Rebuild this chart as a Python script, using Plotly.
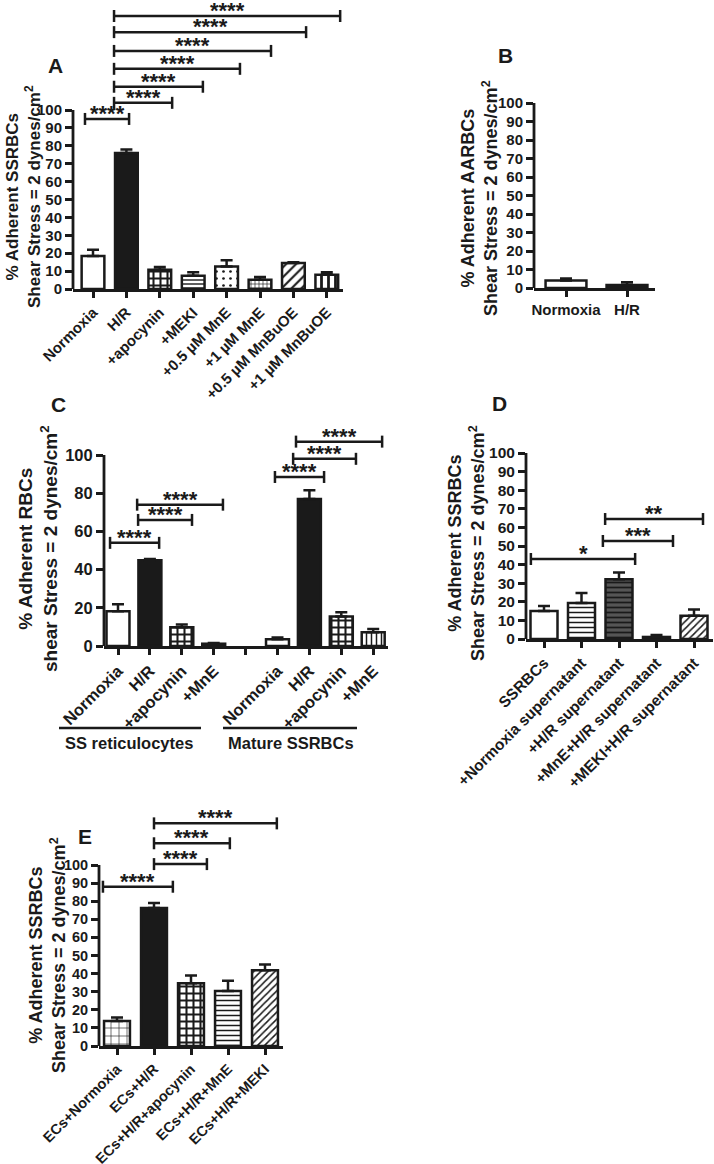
import plotly.graph_objects as go

W, H = 714, 1164
INK = "#1a1a1a"
FONT = "Liberation Sans, Arial, sans-serif"

# ---------------- data ----------------
a_categories = ["Normoxia", "H/R", "+apocynin", "+MEKI", "+0.5 µM MnE",
                "+1 µM MnE", "+0.5 µM MnBuOE", "+1 µM MnBuOE"]
a_means = [18.5, 76.0, 10.8, 7.4, 12.6, 5.2, 14.5, 8.0]
a_sem = [3.4, 2.0, 1.5, 1.9, 3.4, 1.5, 0.4, 1.3]

b_categories = ["Normoxia", "H/R"]
b_means = [4.1, 1.6]
b_sem = [1.1, 1.5]

c_categories = ["Normoxia", "H/R", "+apocynin", "+MnE", "",
                "Normoxia", "H/R", "+apocynin", "+MnE"]
c_means = [18.2, 44.9, 9.8, 1.2, None, 3.5, 76.9, 15.4, 7.2]
c_sem = [3.7, 0.7, 1.4, 0.4, None, 1.0, 4.7, 2.3, 1.7]
c_groups = ["SS reticulocytes", "Mature SSRBCs"]

d_categories = ["SSRBCs", "+Normoxia supernatant", "+H/R supernatant",
                "+MnE+H/R supernatant", "+MEKI+H/R supernatant"]
d_means = [15.0, 19.4, 32.1, 1.1, 12.5]
d_sem = [2.7, 5.3, 3.7, 1.1, 3.3]

e_categories = ["ECs+Normoxia", "ECs+H/R", "ECs+H/R+apocynin",
                "ECs+H/R+MnE", "ECs+H/R+MEKI"]
e_means = [13.8, 76.2, 34.7, 30.4, 41.9]
e_sem = [1.9, 2.8, 4.2, 5.6, 3.1]

# significance labels (start, end in category units, bracket height, label)
a_sig = [(-0.24, 1.08, 95, "****"), (0.63, 2.37, 104, "****"),
         (0.63, 3.29, 113, "****"), (0.63, 4.40, 123, "****"),
         (0.63, 5.33, 133, "****"), (0.63, 6.38, 143.5, "****"),
         (0.63, 7.40, 152.5, "****")]
c_sig = [(-0.25, 1.29, 54, "****"), (0.63, 2.32, 66, "****"),
         (0.60, 3.29, 74, "****"), (4.92, 6.46, 88.5, "****"),
         (5.49, 7.46, 98, "****"), (5.58, 8.28, 107, "****")]
d_sig = [(-0.35, 2.43, 43, "*"), (1.57, 3.44, 52.7, "***"),
         (1.63, 4.24, 64.5, "**")]
e_sig = [(-0.38, 1.51, 88, "****"), (1.0, 2.43, 100.5, "****"),
         (1.0, 3.05, 112, "****"), (1.0, 4.32, 123, "****")]

# ---------------- styles ----------------
WHITE = "white"
DARK = "#555555"
# solid black bars use a pattern whose fore- and background are both black
a_style = dict(bg=[WHITE, INK, WHITE, WHITE, WHITE, WHITE, WHITE, WHITE],
               shape=["", "x", "+", "-", ".", "+", "/", "|"],
               size=[6, 6, 7, 4, 7, 4, 7, 7],
               solid=[0.3, 0.3, 0.5, 0.35, 0.12, 0.3, 0.3, 0.4])
b_style = dict(bg=[WHITE, INK], shape=["", "x"], size=[6, 6], solid=[0.3, 0.3])
c_style = dict(bg=[WHITE, INK, WHITE, WHITE, WHITE, WHITE, INK, WHITE, WHITE],
               shape=["", "x", "+", "|", "", "", "x", "+", "|"],
               size=[6, 6, 7, 5, 6, 6, 6, 7, 5],
               solid=[0.3, 0.3, 0.5, 0.3, 0.3, 0.3, 0.3, 0.5, 0.3])
d_style = dict(bg=[WHITE, WHITE, DARK, WHITE, WHITE],
               shape=["", "-", "-", "", "/"],
               size=[6, 5, 5, 6, 5],
               solid=[0.3, 0.3, 0.35, 0.3, 0.3])
e_style = dict(bg=[WHITE, INK, WHITE, WHITE, WHITE],
               shape=["+", "x", "+", "-", "/"],
               size=[8, 6, 7, 5, 5],
               solid=[0.15, 0.3, 0.5, 0.3, 0.3])

panels = [
    dict(id="", letter="A", cats=a_categories, means=a_means, sem=a_sem, style=a_style,
         sig=a_sig, left=73, right=343, c0=93, sp=33.4, y0=289, y100=110, top=2,
         dtick=10, fs=15, angle=-45, bw=0.68,
         title="% Adherent SSRBCs<br>Shear Stress = 2 dynes/cm<sup>2</sup>",
         tfs=17, tx=23, ty=197, lx=55, ly=65),
    dict(id="2", letter="B", cats=b_categories, means=b_means, sem=b_sem, style=b_style,
         sig=[], left=534, right=655, c0=566, sp=61, y0=288, y100=103, top=95,
         dtick=10, fs=15, angle=0, bw=0.67,
         title="% Adherent AARBCs<br>Shear Stress = 2 dynes/cm<sup>2</sup>",
         tfs=18, tx=479, ty=198, lx=505, ly=55),
    dict(id="3", letter="C", cats=c_categories, means=c_means, sem=c_sem, style=c_style,
         sig=c_sig, left=104, right=388, c0=118, sp=31.9, y0=646, y100=455, top=428,
         dtick=20, fs=16.5, angle=-45, bw=0.72,
         title="% Adherent RBCs<br>shear Stress = 2 dynes/cm<sup>2</sup>",
         tfs=19, tx=38, ty=549, lx=58, ly=404),
    dict(id="4", letter="D", cats=d_categories, means=d_means, sem=d_sem, style=d_style,
         sig=d_sig, left=526, right=713, c0=544, sp=37.5, y0=639, y100=453, top=420,
         dtick=10, fs=15.5, angle=-45, bw=0.72,
         title="% Adherent SSRBCs<br>Shear Stress = 2 dynes/cm<sup>2</sup>",
         tfs=18, tx=466, ty=543, lx=500, ly=403),
    dict(id="5", letter="E", cats=e_categories, means=e_means, sem=e_sem, style=e_style,
         sig=e_sig, left=99, right=283, c0=117, sp=37, y0=1046, y100=865, top=808,
         dtick=10, fs=14.5, angle=-45, bw=0.70,
         title="% Adherent SSRBCs<br>Shear Stress = 2 dynes/cm<sup>2</sup>",
         tfs=18, tx=47, ty=955, lx=85, ly=836),
]


def fx(px):
    return px / W


def fy(py):
    return 1 - py / H


fig = go.Figure()
shapes = []
annotations = []
layout_axes = {}

for p in panels:
    xa_name = "xaxis" + p["id"]
    ya_name = "yaxis" + p["id"]
    xref = "x" + p["id"]
    yref = "y" + p["id"]
    n = len(p["cats"])
    k = (p["y0"] - p["y100"]) / 100.0
    ymax = (p["y0"] - p["top"]) / k
    xr = [(p["left"] - p["c0"]) / p["sp"], (p["right"] - p["c0"]) / p["sp"]]
    st = p["style"]

    fig.add_trace(go.Bar(
        x=list(range(n)), y=p["means"], width=p["bw"],
        xaxis=xref, yaxis=yref, showlegend=False, hoverinfo="skip",
        marker=dict(color=WHITE, line=dict(color=INK, width=2.5),
                    pattern=dict(shape=st["shape"], fgcolor=[INK] * n, bgcolor=st["bg"],
                                 size=st["size"], solidity=st["solid"],
                                 fillmode="replace")),
        error_y=dict(type="data", symmetric=False, array=p["sem"],
                     arrayminus=[0] * n, color=INK, thickness=2.5, width=6),
    ))

    layout_axes[xa_name] = dict(
        domain=[fx(p["left"]), min(1.0, fx(p["right"]))], anchor=yref, range=xr,
        showline=True, linewidth=2.8, linecolor=INK, ticks="outside",
        ticklen=6, tickwidth=2.5, tickcolor=INK, tickvals=list(range(n)),
        ticktext=p["cats"], tickangle=p["angle"], showgrid=False, zeroline=False,
        tickfont=dict(family=FONT, size=p["fs"], color=INK, weight="bold"),
        fixedrange=True, automargin=False,
    )
    layout_axes[ya_name] = dict(
        domain=[fy(p["y0"]), fy(p["top"])], anchor=xref, range=[0, ymax],
        showline=False, ticks="outside", ticklen=7, tickwidth=2.5, tickcolor=INK,
        tickvals=list(range(0, 101, p["dtick"])), showgrid=False, zeroline=False,
        tickfont=dict(family=FONT, size=p["fs"], color=INK, weight="bold"),
        fixedrange=True, automargin=False,
    )
    # y axis line 0..100
    shapes.append(dict(type="line", xref="paper", yref=yref,
                       x0=fx(p["left"]), x1=fx(p["left"]), y0=0, y1=100,
                       line=dict(color=INK, width=2.8)))
    # significance brackets
    for (s0, s1, yv, lab) in p["sig"]:
        shapes.append(dict(type="line", xref=xref, yref=yref, x0=s0, x1=s1,
                           y0=yv, y1=yv, line=dict(color=INK, width=2.5)))
        for xe in (s0, s1):
            shapes.append(dict(type="line", xref=xref, yref=yref, x0=xe, x1=xe,
                               ysizemode="pixel", yanchor=yv, y0=-6, y1=6,
                               line=dict(color=INK, width=2.5)))
        annotations.append(dict(x=(s0 + s1) / 2, y=yv, xref=xref, yref=yref,
                                text=lab, showarrow=False, yanchor="bottom",
                                yshift=-9,
                                font=dict(family=FONT, size=22, color=INK, weight="bold")))
    # y title
    annotations.append(dict(x=fx(p["tx"]), y=fy(p["ty"]), xref="paper", yref="paper",
                            text=p["title"], textangle=-90, showarrow=False,
                            xanchor="center", yanchor="middle",
                            font=dict(family=FONT, size=p["tfs"], color=INK, weight="bold")))
    # panel letter
    annotations.append(dict(x=fx(p["lx"]), y=fy(p["ly"]), xref="paper", yref="paper",
                            text=p["letter"], showarrow=False, xanchor="center",
                            yanchor="middle",
                            font=dict(family=FONT, size=21, color=INK, weight="bold")))

# group underlines for panel C
for (x0, x1, cx), lab in zip([(59, 201, 129), (223, 357, 291)], c_groups):
    shapes.append(dict(type="line", xref="paper", yref="paper", x0=fx(x0), x1=fx(x1),
                       y0=fy(728), y1=fy(728), line=dict(color=INK, width=2.5)))
    annotations.append(dict(x=fx(cx), y=fy(743), xref="paper", yref="paper",
                            text=lab, showarrow=False, xanchor="center", yanchor="middle",
                            font=dict(family=FONT, size=16.5, color=INK, weight="bold")))

fig.update_layout(
    width=W, height=H, margin=dict(l=0, r=0, t=0, b=0, autoexpand=False),
    paper_bgcolor="white", plot_bgcolor="white",
    font=dict(family=FONT, color=INK, weight="bold"),
    bargap=0.3, barmode="overlay", shapes=shapes, annotations=annotations, **layout_axes,
)

# remove the default page margin so the figure sits at the window's corner
fig.write_html("out.html", config={"displayModeBar": False},
               post_script="document.body.style.margin='0';document.body.style.overflow='hidden';")
